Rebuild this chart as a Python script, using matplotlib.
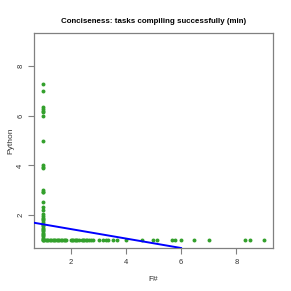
import matplotlib
matplotlib.use("Agg")
import matplotlib.pyplot as plt

# Points along x = 1 (F# = 1)
col_y = [7.29, 6.97, 6.33, 6.27, 6.2, 6.15, 5.98, 5.0, 4.0, 3.95, 3.9, 3.0, 2.95, 2.92,
         2.52, 2.34, 2.2, 2.03, 1.95, 1.9, 1.85, 1.8, 1.72, 1.65, 1.6, 1.55, 1.5, 1.45,
         1.4, 1.35, 1.3, 1.25, 1.2, 1.15, 1.1, 1.05, 1.02]
# Points along y = 1 (Python = 1)
row_x = [1.0, 1.05, 1.1, 1.15, 1.2, 1.25, 1.3, 1.35, 1.4, 1.45, 1.5, 1.55, 1.6, 1.65,
         1.7, 1.75, 1.8, 1.85, 2.0, 2.05, 2.1, 2.15, 2.2, 2.25, 2.3, 2.4, 2.45, 2.5,
         2.55, 2.6, 2.67, 2.75, 2.83, 3.02, 3.17, 3.29, 3.34, 3.52, 3.68, 4.0, 4.57,
         4.99, 5.11, 5.67, 5.79, 6.0, 6.48, 7.0, 8.32, 8.49, 8.99]

fsharp = [1.0] * len(col_y) + row_x
python = col_y + [1.0] * len(row_x)

fit_intercept = 1.825
fit_slope = -0.191

ticks = [2, 4, 6, 8]

plt.rcParams['font.family'] = ['Liberation Sans', 'DejaVu Sans']

fig = plt.figure(figsize=(2.91, 2.91), dpi=100)
ax = fig.add_axes([34/291, 43/291, 239/291, 215/291])

ax.scatter(fsharp, python, s=8, color='#33a02c', linewidths=0, zorder=3)
ax.axline((0, fit_intercept), slope=fit_slope, color='#0000ff', lw=1.4, zorder=4)

ax.set_xlim(0.68, 9.32)
ax.set_ylim(0.68, 9.32)
ax.set_xticks(ticks)
ax.set_yticks(ticks)
ax.set_xticklabels([str(t) for t in ticks])
ax.set_yticklabels([str(t) for t in ticks], rotation=90, va='center')

for s in ax.spines.values():
    s.set_color('#808080')
    s.set_linewidth(0.9)
ax.tick_params(axis='both', direction='out', length=4, width=0.8, color='#808080',
               labelsize=5.5, labelcolor='#333333')
ax.tick_params(axis='x', pad=4)
ax.tick_params(axis='y', pad=3)

ax.set_xlabel('F#', fontsize=6, color='#333333', labelpad=7)
ax.set_ylabel('Python', fontsize=6, color='#333333', labelpad=2)
ax.set_title('Conciseness: tasks compiling successfully (min)', fontsize=5.7,
             fontweight='bold', pad=7)

fig.savefig('out.png', dpi=100)
